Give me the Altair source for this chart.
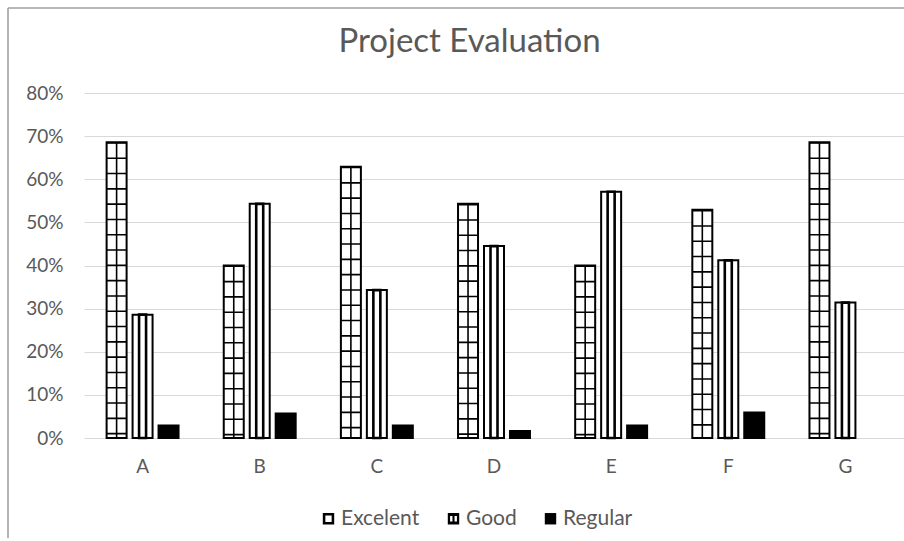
import altair as alt
import pandas as pd

# ---- data ----
categories = ["A", "B", "C", "D", "E", "F", "G"]
series_names = ["Excelent", "Good", "Regular"]
excelent = [0.686, 0.400, 0.629, 0.543, 0.400, 0.529, 0.686]
good = [0.286, 0.543, 0.343, 0.445, 0.571, 0.412, 0.314]
regular = [0.029, 0.057, 0.029, 0.016, 0.029, 0.059, 0.0]
y_ticks = [0.0, 0.1, 0.2, 0.3, 0.4, 0.5, 0.6, 0.7, 0.8]

rows = []
for name, vals in zip(series_names, [excelent, good, regular]):
    for c, v in zip(categories, vals):
        rows.append({"category": c, "series": name, "value": v})
df = pd.DataFrame(rows)

W, H = 820, 345
FONT = "Lato"
GRAY = "#595959"
LABEL_SIZE = 19

x_enc = alt.X(
    "category:N",
    scale=alt.Scale(domain=categories, paddingInner=0.386, paddingOuter=0.193),
    axis=alt.Axis(title=None, labelAngle=0, domain=False, ticks=False, tickSize=0,
                  grid=False, labelPadding=19),
)
xoff = alt.XOffset("series:N",
                   scale=alt.Scale(domain=series_names, paddingInner=0.23, paddingOuter=0))
y_enc = alt.Y(
    "value:Q",
    scale=alt.Scale(domain=[0, 0.8], nice=False),
    axis=alt.Axis(title=None, values=y_ticks, format=".0%", domain=False, ticks=False,
                  tickSize=0, grid=True, gridColor="#d9d9d9", gridWidth=1, labelPadding=21),
)

base = alt.Chart(df)

bars = base.transform_filter("datum.value > 0").mark_bar(
    stroke="black", strokeWidth=2
).encode(
    x=x_enc, xOffset=xoff, y=y_enc,
    fill=alt.condition("datum.series == 'Regular'", alt.value("black"), alt.value("white")),
)

exc = base.transform_filter("datum.series == 'Excelent'")
# horizontal grid lines of the "Excelent" pattern
hlines = exc.mark_rule(color="black", strokeWidth=20, strokeDash=[1.6, 13.7],
                       strokeCap="butt").encode(
    x=x_enc, xOffset=xoff, y=y_enc, y2=alt.datum(0)
)
# vertical middle line of the "Excelent" pattern
vline = exc.mark_rule(color="black", strokeWidth=1.6).encode(
    x=x_enc, xOffset=xoff, y=y_enc, y2=alt.datum(0)
)
# inner stripes of the "Good" pattern
gd = base.transform_filter("datum.series == 'Good'")
stripes = gd.mark_bar(width=7, fillOpacity=0, stroke="black", strokeWidth=2.6).encode(
    x=x_enc, xOffset=xoff, y=y_enc
)

excel_path = "M-1,-1L1,-1L1,1L-1,1Z M-0.55,-0.55L-0.55,0.55L0.55,0.55L0.55,-0.55Z"
good_path = ("M-1,-1L1,-1L1,1L-1,1Z M-0.6,-0.5L-0.6,0.5L-0.18,0.5L-0.18,-0.5Z "
             "M0.18,-0.5L0.18,0.5L0.6,0.5L0.6,-0.5Z")

legend_layer = base.mark_point(color="black", filled=True, opacity=0).encode(
    x=x_enc, y=alt.Y("value:Q"),
    shape=alt.Shape(
        "series:N",
        scale=alt.Scale(domain=series_names, range=[excel_path, good_path, "square"]),
        legend=alt.Legend(
            title=None, orient="none", legendX=234, legendY=415, direction="horizontal",
            symbolFillColor="black", symbolStrokeWidth=0, symbolOpacity=1, symbolSize=130,
            labelFont=FONT, labelFontSize=21, labelColor=GRAY, labelOffset=2,
            columnPadding=23,
        ),
    ),
)

frame_df = pd.DataFrame({"k": [0]})
frame_left = alt.Chart(frame_df).mark_rule(color="#a0a0a0", strokeWidth=1.6).encode(
    x=alt.value(-76), y=alt.value(-85), y2=alt.value(460)
)
frame_top = alt.Chart(frame_df).mark_rule(color="#a0a0a0", strokeWidth=1.6).encode(
    x=alt.value(-76), x2=alt.value(830), y=alt.value(-85)
)

chart = alt.layer(
    frame_left, frame_top, bars, hlines, vline, stripes, legend_layer
).properties(
    width=W, height=H,
    title=alt.Title("Project Evaluation", font=FONT, fontSize=33, color=GRAY,
                    fontWeight="normal", anchor="middle", dx=-24.5, offset=-78,
                    baseline="alphabetic"),
    padding={"left": 84, "top": 93, "right": 0, "bottom": 100},
    autosize="none",
).configure_view(stroke=None).configure_axis(
    labelFont=FONT, labelFontSize=LABEL_SIZE, labelColor=GRAY
)

chart.save("out.html", embed_options={"renderer": "svg", "actions": False})
